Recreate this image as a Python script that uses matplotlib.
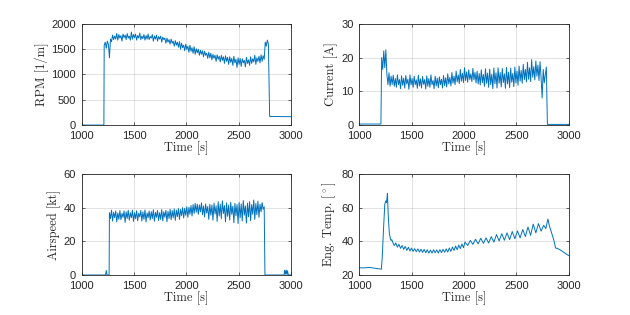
import numpy as np
import matplotlib
matplotlib.use("Agg")
import matplotlib.pyplot as plt  # noqa: E402

plt.rcParams["mathtext.fontset"] = "cm"
plt.rcParams["font.family"] = ["Liberation Sans", "DejaVu Sans"]

BLUE = "#0072BD"

# ---- RPM [1/m] ------------------------------------------------------------
rpm_pre_t = [1000, 1212]
rpm_pre_v = [0, 0]
rpm_dense_t0, rpm_dense_dt = 1215, 10
rpm_dense_v = [
    1580, 1640, 1520, 1660, 1600, 1330, 1700, 1650, 1780, 1690,
    1760, 1700, 1810, 1680, 1790, 1720, 1770, 1660, 1800, 1730,
    1780, 1690, 1810, 1720, 1760, 1680, 1840, 1700, 1790, 1730,
    1800, 1680, 1770, 1720, 1820, 1690, 1760, 1710, 1790, 1680,
    1770, 1700, 1800, 1690, 1750, 1720, 1790, 1660, 1760, 1700,
    1780, 1660, 1750, 1700, 1760, 1640, 1740, 1690, 1720, 1620,
    1720, 1640, 1690, 1600, 1700, 1620, 1660, 1560, 1670, 1580,
    1640, 1540, 1650, 1500, 1620, 1530, 1580, 1470, 1600, 1500,
    1560, 1440, 1580, 1460, 1530, 1420, 1550, 1400, 1510, 1430,
    1500, 1380, 1480, 1400, 1470, 1350, 1460, 1380, 1420, 1320,
    1440, 1330, 1420, 1290, 1400, 1320, 1380, 1260, 1390, 1300,
    1360, 1250, 1380, 1280, 1350, 1220, 1370, 1260, 1340, 1200,
    1350, 1240, 1320, 1180, 1360, 1230, 1300, 1140, 1330, 1200,
    1320, 1160, 1310, 1230, 1280, 1150, 1340, 1220, 1290, 1180,
    1350, 1220, 1310, 1250, 1380, 1200, 1330, 1260, 1360, 1230,
    1390, 1260, 1370, 1300, 1640, 1560, 1680, 1600,
]
rpm_post_t = [2797, 3000]
rpm_post_v = [170, 165]

# ---- Current [A] ----------------------------------------------------------
cur_pre_t = [1000, 1208]
cur_pre_v = [0.3, 0.3]
cur_dense_t0, cur_dense_dt = 1215, 10
cur_dense_v = [
    20.0, 16.5, 22.0, 17.0, 22.3, 15.0, 12.0, 15.5, 11.5, 14.5,
    12.0, 14.8, 11.5, 13.8, 11.2, 14.9, 12.0, 13.5, 10.8, 14.6,
    11.8, 13.9, 11.0, 14.7, 12.2, 13.6, 10.6, 14.9, 11.9, 13.8,
    11.2, 14.5, 12.0, 13.4, 10.9, 14.8, 11.6, 13.7, 11.0, 14.4,
    12.1, 13.5, 10.7, 14.6, 11.5, 13.8, 11.2, 14.9, 12.0, 13.2,
    10.8, 14.5, 11.6, 13.9, 11.1, 14.3, 12.0, 13.6, 11.0, 14.7,
    11.7, 14.0, 11.3, 15.2, 12.2, 14.1, 11.6, 15.6, 12.4, 14.5,
    12.0, 16.0, 12.8, 14.9, 12.3, 16.5, 13.0, 15.4, 12.6, 17.0,
    13.2, 15.8, 12.7, 16.4, 13.5, 15.2, 12.9, 16.8, 13.4, 15.6,
    12.5, 16.0, 12.2, 15.3, 11.9, 16.4, 12.6, 15.0, 11.5, 16.7,
    12.4, 15.4, 11.2, 16.6, 12.0, 15.1, 10.8, 16.9, 12.3, 15.5,
    11.0, 17.0, 12.4, 15.6, 11.3, 16.8, 12.6, 15.2, 10.9, 17.1,
    12.2, 15.7, 11.1, 16.9, 12.7, 15.3, 11.4, 17.2, 12.5, 16.0,
    11.8, 17.5, 13.0, 16.2, 12.4, 18.0, 13.5, 16.5, 12.8, 18.6,
    13.6, 17.0, 12.9, 19.4, 14.2, 17.3, 13.4, 19.0, 14.5, 17.8,
    13.2, 18.8, 14.0, 8.0, 16.5, 12.5, 15.0, 17.2,
]
cur_post_t = [2795, 3000]
cur_post_v = [0.2, 0.2]

# ---- Airspeed [kt] --------------------------------------------------------
air_pre_t = [1000, 1228, 1235, 1242, 1262]
air_pre_v = [0, 0, 2.7, 0, 0]
air_dense_t0, air_dense_dt = 1265, 10
air_dense_v = [
    37.0, 33.5, 38.5, 32.0, 37.2, 34.0, 38.0, 31.5, 36.8, 33.0,
    38.2, 32.8, 36.5, 34.2, 38.0, 31.2, 37.5, 33.6, 38.4, 32.5,
    36.9, 34.0, 38.5, 31.8, 37.0, 33.4, 38.1, 32.2, 36.6, 34.5,
    38.3, 32.0, 37.4, 33.1, 38.6, 31.5, 36.8, 34.0, 38.0, 32.6,
    37.6, 33.5, 38.7, 31.9, 37.2, 34.2, 38.3, 32.4, 37.0, 33.0,
    38.8, 32.1, 37.5, 34.3, 38.4, 31.6, 37.8, 33.5, 39.0, 32.8,
    38.2, 34.0, 39.2, 32.4, 38.5, 34.6, 39.4, 33.0, 38.9, 35.2,
    40.0, 33.8, 39.6, 35.4, 40.5, 34.2, 40.1, 36.0, 41.2, 35.0,
    41.8, 36.5, 42.5, 37.2, 42.0, 36.0, 41.6, 37.5, 42.8, 35.8,
    41.0, 34.5, 42.2, 36.8, 40.6, 33.0, 42.0, 35.5, 41.5, 32.5,
    42.6, 36.2, 41.0, 31.8, 43.5, 35.0, 42.0, 33.4, 44.0, 36.5,
    41.2, 31.5, 42.8, 34.8, 41.5, 32.6, 43.2, 36.0, 40.8, 31.0,
    42.5, 35.2, 41.8, 30.5, 43.0, 34.0, 42.2, 32.0, 44.2, 35.5,
    41.0, 30.8, 42.6, 34.5, 43.5, 32.2, 41.8, 36.0, 44.5, 33.0,
    42.4, 35.8, 43.8, 34.2, 42.0, 37.5, 43.0, 39.0, 40.5,
]
air_post_t = [2752, 2935, 2940, 2948, 2955, 2962, 2968, 2975, 3000]
air_post_v = [0, 0, 2.8, 0.5, 3.0, 0.3, 2.5, 0, 0]

# ---- Engine temperature [deg] ---------------------------------------------
temp_t = [
    1000, 1050, 1100, 1150, 1200, 1212, 1220, 1235, 1245, 1255, 1262, 1270,
    1278, 1288, 1298, 1305, 1312, 1320,
    1335, 1350, 1365, 1380, 1395, 1410, 1425, 1440, 1455, 1470, 1485, 1500,
    1515, 1530, 1545, 1560, 1575, 1590, 1605, 1620, 1635, 1650, 1665, 1680,
    1695, 1710, 1725, 1740, 1755, 1770, 1785, 1800, 1815, 1830, 1845, 1860,
    1875, 1890, 1905, 1920, 1935, 1950, 1965, 1980, 1995, 2010,
    2035, 2060, 2085, 2110, 2135, 2160, 2185, 2210, 2235, 2260, 2285, 2310,
    2335, 2360, 2385, 2410, 2435, 2460, 2485, 2510, 2535, 2560, 2585, 2610,
    2635, 2660, 2685, 2710, 2735, 2760, 2780, 2800, 2815, 2835, 2855, 2865,
    2872, 2890, 2920, 2950, 2980, 3000,
]
temp_v = [
    24.3, 24.2, 24.5, 24.0, 23.6, 23.4, 30.0, 50.0, 62.0, 64.0, 63.0, 68.5,
    55.0, 45.0, 41.5, 40.5, 41.0, 39.5,
    37.5, 39.0, 36.5, 38.2, 35.8, 37.5, 35.2, 37.0, 34.6, 36.5, 34.2, 36.0,
    34.0, 35.6, 33.8, 35.5, 33.6, 35.3, 33.4, 35.2, 33.2, 35.0, 33.0, 34.8,
    33.0, 35.0, 33.2, 34.9, 33.0, 35.0, 33.3, 35.2, 33.5, 35.5, 33.6, 36.0,
    34.0, 36.6, 34.6, 37.2, 35.0, 37.8, 35.6, 38.4, 36.2, 39.5,
    37.5, 40.5, 38.2, 41.2, 38.5, 41.8, 38.8, 42.0, 39.0, 42.8, 39.5, 44.0,
    40.2, 44.5, 40.6, 45.0, 41.0, 45.8, 41.5, 46.2, 42.0, 47.0, 42.8, 48.5,
    43.5, 50.2, 45.0, 50.5, 46.0, 49.5, 47.5, 53.2, 49.0, 45.0, 41.0, 38.5,
    36.0, 35.8, 34.8, 33.5, 32.2, 31.5,
]


def series(pre_t, pre_v, t0, dt, dense_v, post_t, post_v):
    dense_t = t0 + dt * np.arange(len(dense_v))
    t = np.concatenate([pre_t, dense_t, post_t])
    v = np.concatenate([pre_v, dense_v, post_v])
    return t, v


panels = [
    (series(rpm_pre_t, rpm_pre_v, rpm_dense_t0, rpm_dense_dt, rpm_dense_v,
            rpm_post_t, rpm_post_v), "RPM [1/m]", (0, 2000), [0, 500, 1000, 1500, 2000]),
    (series(cur_pre_t, cur_pre_v, cur_dense_t0, cur_dense_dt, cur_dense_v,
            cur_post_t, cur_post_v), "Current [A]", (0, 30), [0, 10, 20, 30]),
    (series(air_pre_t, air_pre_v, air_dense_t0, air_dense_dt, air_dense_v,
            air_post_t, air_post_v), "Airspeed [kt]", (0, 60), [0, 20, 40, 60]),
    ((np.array(temp_t), np.array(temp_v)), r"Eng. Temp. [$^\circ$]", (20, 80), [20, 40, 60, 80]),
]

boxes = [
    (0.1297, 0.603, 0.332, 0.321),
    (0.570, 0.603, 0.333, 0.321),
    (0.1297, 0.127, 0.332, 0.321),
    (0.570, 0.127, 0.333, 0.321),
]

fig = plt.figure(figsize=(6.3, 3.15), dpi=100)
for (data, ylab, ylim, yt), box in zip(panels, boxes):
    ax = fig.add_axes(box)
    t, v = data
    ax.plot(t, v, color=BLUE, lw=0.7)
    ax.set_xlim(1000, 3000)
    ax.set_ylim(*ylim)
    ax.set_xticks([1000, 1500, 2000, 2500, 3000])
    ax.set_yticks(yt)
    ax.grid(True, color="#262626", alpha=0.15, lw=0.6)
    ax.tick_params(direction="in", top=True, right=True, length=2.5,
                   width=0.5, labelsize=8, colors="#262626")
    ax.tick_params(axis="x", pad=4)
    ax.tick_params(axis="y", pad=4)
    for s in ax.spines.values():
        s.set_color("#262626")
        s.set_linewidth(0.6)
    ax.set_xlabel("Time [s]", fontfamily="cmr10", fontsize=9, labelpad=0.5, color="#262626")
    ax.set_ylabel(ylab, fontfamily="cmr10", fontsize=9, labelpad=2, color="#262626")

fig.savefig("out.png", dpi=100)
